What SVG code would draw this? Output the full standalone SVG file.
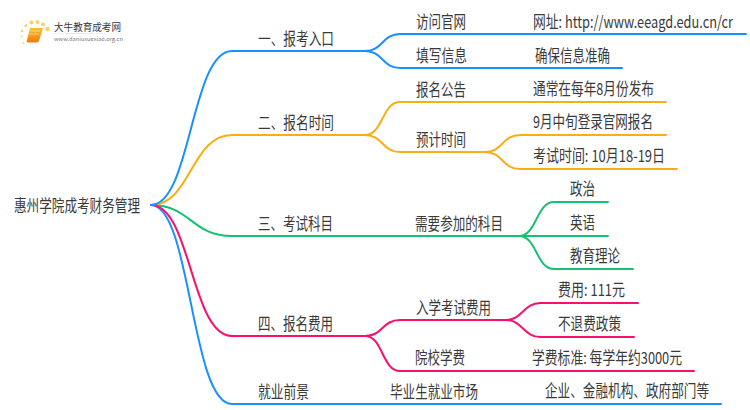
<svg xmlns="http://www.w3.org/2000/svg" width="750" height="410" viewBox="0 0 750 410">
<defs>
<linearGradient id="book" x1="0" y1="0" x2="0" y2="1"><stop offset="0" stop-color="#fcc02e"/><stop offset="1" stop-color="#ee7a10"/></linearGradient>
<linearGradient id="rule" x1="0" y1="0" x2="1" y2="0"><stop offset="0" stop-color="#ddd" stop-opacity="0"/><stop offset=".3" stop-color="#ddd"/><stop offset="1" stop-color="#ddd" stop-opacity="0"/></linearGradient>
</defs>
<style>
text{font-family:"Noto Sans CJK SC","Liberation Sans",sans-serif;font-size:16.500px;fill:#3a3a3a}
.c{fill:none;stroke-width:2;stroke-linecap:round}
.b{stroke:#1890ff}.o{stroke:#faad14}.g{stroke:#14c274}.p{stroke:#fb0f6e}
.d{fill:#fbd06a}
</style>
<rect width="750" height="410" fill="#fff"/>
<g id="logo">
<circle class="d" cx="23.500" cy="43" r="1"/><circle class="d" cx="21.500" cy="36.500" r="1.100"/><circle class="d" cx="22" cy="31" r="1.200"/><circle class="d" cx="26" cy="25.500" r="1.500"/><circle class="d" cx="31.500" cy="22.500" r="2"/><circle class="d" cx="37.500" cy="22" r="2"/><circle class="d" cx="43" cy="24.500" r="2"/><circle class="d" cx="47.500" cy="29" r="2.300"/>
<path d="M30 28H43L39 41Q38 42.500 36 42.500H28Q26 42.500 27 40Z" fill="url(#book)"/>
<path d="M30 31H40M29 34H39" stroke="#fde08a" stroke-width=".8" fill="none"/>
<text x="54" y="31" textLength="67" lengthAdjust="spacingAndGlyphs" style="font-size:10px">大牛教育成考网</text>
<rect x="46" y="33" width="88" height=".8" fill="url(#rule)"/>
<text x="54" y="41" textLength="69" lengthAdjust="spacingAndGlyphs" style="font-size:5.500px;fill:#777">www.daniuxuexiao.org.cn</text>
</g>
<g id="connectors">
<path class="c g" d="M151 205C191 205 191 236 232 236H519"/>
<path class="c o" d="M151 205C191 205 191 135 232 135H365"/>
<path class="c b" d="M151 205C191 205 191 51 232 51H365"/>
<path class="c b" d="M151 205C191 205 191 404 232 404H721"/>
<path class="c p" d="M151 205C191 205 191 336 232 336H365"/>
<path class="c b" d="M151 205H156"/>
<path class="c b" d="M365 51C383 51 382 34 400 34H746"/>
<path class="c b" d="M365 51C383 51 382 68 400 68H622"/>
<path class="c o" d="M365 135C383 135 382 102 400 102H666"/>
<path class="c o" d="M365 135C383 135 382 152 400 152H485"/>
<path class="c o" d="M485 152C503 152 502 135 520 135H666"/>
<path class="c o" d="M485 152C503 152 502 169 520 169H677"/>
<path class="c g" d="M519 236C537 236 536 202 554 202H608"/>
<path class="c g" d="M519 236H608"/>
<path class="c g" d="M519 236C537 236 536 269 554 269H633"/>
<path class="c p" d="M365 336C383 336 382 320 400 320H506"/>
<path class="c p" d="M365 336C383 336 382 371 400 371H694"/>
<path class="c p" d="M506 320C522 320 524 303 540 303H638"/>
<path class="c p" d="M506 320C522 320 524 337 540 337H634"/>
</g>
<g id="root"><text x="14" y="212" textLength="126" lengthAdjust="spacingAndGlyphs">惠州学院成考财务管理</text></g>
<g id="n1"><text x="258" y="45" textLength="76" lengthAdjust="spacingAndGlyphs">一、报考入口</text></g>
<g id="n2"><text x="258" y="129" textLength="76" lengthAdjust="spacingAndGlyphs">二、报名时间</text></g>
<g id="n3"><text x="258" y="230" textLength="75" lengthAdjust="spacingAndGlyphs">三、考试科目</text></g>
<g id="n4"><text x="258" y="330" textLength="75" lengthAdjust="spacingAndGlyphs">四、报名费用</text></g>
<g id="n5"><text x="258" y="398" textLength="51" lengthAdjust="spacingAndGlyphs">就业前景</text></g>
<g id="n11"><text x="416" y="28" textLength="50" lengthAdjust="spacingAndGlyphs">访问官网</text></g>
<g id="n12"><text x="416" y="62" textLength="51" lengthAdjust="spacingAndGlyphs">填写信息</text></g>
<g id="n21"><text x="416" y="96" textLength="50" lengthAdjust="spacingAndGlyphs">报名公告</text></g>
<g id="n22"><text x="416" y="146" textLength="50" lengthAdjust="spacingAndGlyphs">预计时间</text></g>
<g id="n31"><text x="415" y="230" textLength="88" lengthAdjust="spacingAndGlyphs">需要参加的科目</text></g>
<g id="n41"><text x="416" y="314" textLength="75" lengthAdjust="spacingAndGlyphs">入学考试费用</text></g>
<g id="n42"><text x="415" y="364" textLength="50" lengthAdjust="spacingAndGlyphs">院校学费</text></g>
<g id="n51"><text x="390" y="398" textLength="88" lengthAdjust="spacingAndGlyphs">毕业生就业市场</text></g>
<g id="n111"><text transform="translate(533 28) scale(.8 1)" textLength="250" lengthAdjust="spacingAndGlyphs">网址: http://www.eeagd.edu.cn/cr</text></g>
<g id="n121"><text x="535" y="62" textLength="75" lengthAdjust="spacingAndGlyphs">确保信息准确</text></g>
<g id="n211"><text x="533" y="95" textLength="121" lengthAdjust="spacingAndGlyphs">通常在每年8月份发布</text></g>
<g id="n221"><text x="533" y="128" textLength="120" lengthAdjust="spacingAndGlyphs">9月中旬登录官网报名</text></g>
<g id="n222"><text x="533" y="162" textLength="132" lengthAdjust="spacingAndGlyphs">考试时间: 10月18-19日</text></g>
<g id="n311"><text x="570" y="195" textLength="25" lengthAdjust="spacingAndGlyphs">政治</text></g>
<g id="n312"><text x="570" y="229" textLength="25" lengthAdjust="spacingAndGlyphs">英语</text></g>
<g id="n313"><text x="570" y="262" textLength="50" lengthAdjust="spacingAndGlyphs">教育理论</text></g>
<g id="n411"><text x="558" y="296" textLength="67" lengthAdjust="spacingAndGlyphs">费用: 111元</text></g>
<g id="n412"><text x="558" y="330" textLength="63" lengthAdjust="spacingAndGlyphs">不退费政策</text></g>
<g id="n421"><text x="532" y="364" textLength="150" lengthAdjust="spacingAndGlyphs">学费标准: 每学年约3000元</text></g>
<g id="n511"><text transform="translate(545 397) scale(.8 1)" textLength="205" lengthAdjust="spacingAndGlyphs">企业、金融机构、政府部门等</text></g>
</svg>
